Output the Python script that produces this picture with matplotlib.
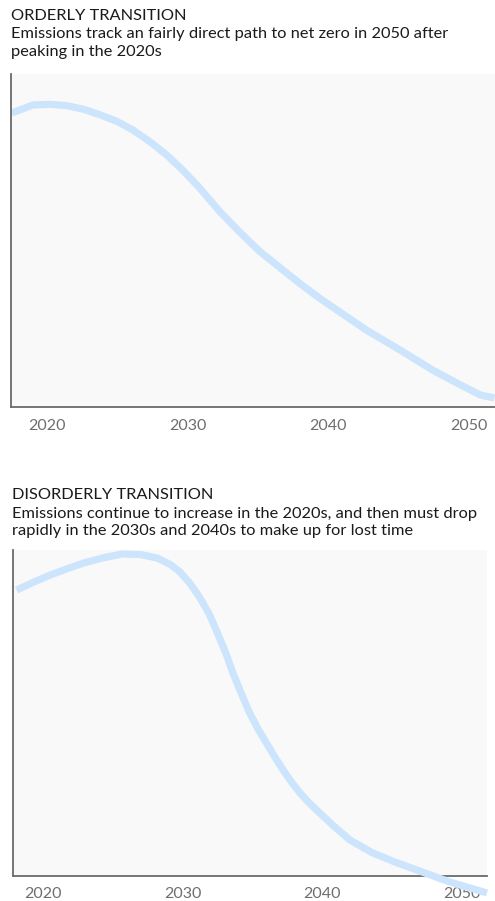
import matplotlib
matplotlib.use("Agg")
import matplotlib.pyplot as plt

plt.rcParams['font.family'] = ['Lato', 'DejaVu Sans']

# emissions index (0 = bottom of panel, 100 = top)
orderly_years = [2017.5, 2019.0, 2020.2, 2021.4, 2022.6, 2023.8, 2025.0, 2026.1,
                 2027.3, 2028.5, 2029.6, 2030.8, 2032.3, 2033.7, 2035.1, 2036.6,
                 2038.0, 2039.4, 2040.3, 2042.7, 2045.1, 2047.4, 2049.4, 2050.8,
                 2051.8]
orderly_vals = [88.3, 90.7, 90.9, 90.5, 89.4, 87.7, 85.7, 83.2,
                79.7, 75.7, 71.3, 66.0, 58.6, 52.5, 46.8, 41.7,
                37.0, 32.6, 30.0, 23.1, 17.1, 11.1, 6.6, 3.6,
                2.7]

disorderly_years = [2018.1, 2019.3, 2020.5, 2021.7, 2022.9, 2024.3, 2025.7, 2027.0,
                    2028.2, 2029.1, 2029.8, 2030.5, 2031.2, 2031.9, 2032.5, 2033.1,
                    2033.6, 2034.2, 2034.8, 2035.4, 2036.0, 2036.6, 2037.2, 2037.8,
                    2038.4, 2039.0, 2039.6, 2040.8, 2042.0, 2043.6, 2045.2, 2046.8,
                    2049.1, 2051.8]
disorderly_vals = [87.7, 90.1, 92.3, 94.2, 96.0, 97.6, 98.8, 98.6,
                   97.5, 95.6, 93.3, 89.9, 85.6, 80.4, 74.5, 68.3,
                   62.3, 56.0, 50.0, 45.1, 40.8, 36.5, 32.5, 28.8,
                   25.5, 22.7, 20.2, 15.4, 11.0, 7.1, 4.3, 1.8,
                   -1.8, -5.2]

tick_years = [2020, 2030, 2040, 2050]

titles = ["ORDERLY TRANSITION", "DISORDERLY TRANSITION"]
subtitles = [["Emissions track an fairly direct path to net zero in 2050 after",
              "peaking in the 2020s"],
             ["Emissions continue to increase in the 2020s, and then must drop",
              "rapidly in the 2030s and 2040s to make up for lost time"]]

W, H = 495, 901
fig = plt.figure(figsize=(W / 100, H / 100), dpi=100)
fig.patch.set_facecolor("white")

LINE = "#cde5fc"
SPINE = "#6b6b6b"
TXT = "#1a1a1a"


def px_axes(x0, y0, x1, y1):
    # pixel box (top-left origin) -> figure fraction
    return fig.add_axes([x0 / W, 1 - y1 / H, (x1 - x0) / W, (y1 - y0) / H])


def style(ax, xlim, pad):
    ax.set_facecolor("#f9f9f9")
    for s in ["top", "right"]:
        ax.spines[s].set_visible(False)
    for s in ["left", "bottom"]:
        ax.spines[s].set_color(SPINE)
        ax.spines[s].set_linewidth(1.3)
    ax.set_xlim(*xlim)
    ax.set_ylim(0, 100)
    ax.set_yticks([])
    ax.set_xticks(tick_years)
    ax.set_xticklabels([str(y) for y in tick_years])
    ax.tick_params(axis="x", length=0, pad=pad, labelsize=11.5, labelcolor="#6e6e6e")


ax1 = px_axes(11, 74, 495, 407)
style(ax1, (2017.44, 2051.84), 9)
ax1.plot(orderly_years, orderly_vals, color=LINE, lw=5.2,
         solid_capstyle="butt", solid_joinstyle="round", clip_on=False)

ax2 = px_axes(13, 550, 487, 876)
style(ax2, (2017.85, 2051.8), 8)
ax2.plot(disorderly_years, disorderly_vals, color=LINE, lw=5.2,
         solid_capstyle="butt", solid_joinstyle="round", clip_on=False, zorder=5)

# header texts (baselines in pixels)
heads = [(11, 20, 38, 56), (12, 499, 518, 535)]
for i, (x, tb, l1, l2) in enumerate(heads):
    fig.text(x / W, 1 - tb / H, titles[i], fontsize=11.8, color=TXT, va="baseline")
    fig.text(x / W, 1 - l1 / H, subtitles[i][0], fontsize=11.8, color=TXT, va="baseline")
    fig.text(x / W, 1 - l2 / H, subtitles[i][1], fontsize=11.8, color=TXT, va="baseline")

fig.savefig("out.png", dpi=100)
